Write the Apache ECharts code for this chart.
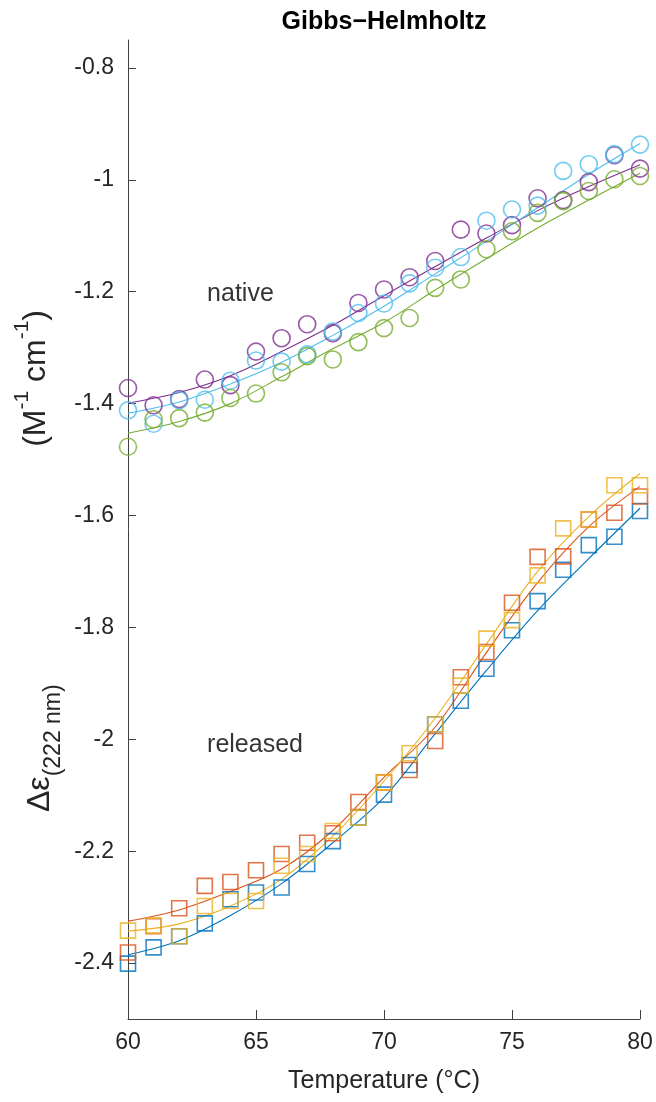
<!DOCTYPE html>
<html>
<head>
<meta charset="utf-8">
<script src="https://cdn.jsdelivr.net/npm/echarts@6/dist/echarts.min.js"></script>
<style>html,body{margin:0;padding:0;background:#fff}#c{width:656px;height:1102px}</style>
</head>
<body>
<div id="c"></div>
<script>
const temps = [60,61,62,63,64,65,66,67,68,69,70,71,72,73,74,75,76,77,78,79,80];
const fitX = [60,62,64,66,68,70,72,74,76,78,80];
const yTicks = [-2.4,-2.2,-2,-1.8,-1.6,-1.4,-1.2,-1,-0.8];
const xTicks = [60,65,70,75,80];

// native (circles)
const purplePts = [-1.372,-1.403,-1.392,-1.357,-1.367,-1.307,-1.283,-1.258,-1.274,-1.220,-1.196,-1.174,-1.145,-1.089,-1.096,-1.081,-1.033,-1.036,-1.004,-0.956,-0.980];
const cyanPts   = [-1.412,-1.436,-1.394,-1.393,-1.359,-1.323,-1.325,-1.312,-1.271,-1.238,-1.221,-1.185,-1.157,-1.138,-1.073,-1.053,-1.046,-0.984,-0.972,-0.954,-0.937];
const greenPts  = [-1.477,-1.428,-1.426,-1.416,-1.390,-1.382,-1.344,-1.315,-1.321,-1.290,-1.265,-1.247,-1.193,-1.178,-1.124,-1.092,-1.059,-1.038,-1.020,-0.999,-0.993];
// released (squares)
const bluePts   = [-2.401,-2.372,-2.352,-2.329,-2.286,-2.274,-2.265,-2.223,-2.182,-2.140,-2.099,-2.046,-1.973,-1.931,-1.874,-1.805,-1.753,-1.697,-1.653,-1.638,-1.592];
const orangePts = [-2.381,-2.334,-2.302,-2.262,-2.255,-2.234,-2.205,-2.185,-2.168,-2.112,-2.077,-2.055,-2.003,-1.889,-1.844,-1.756,-1.674,-1.673,-1.607,-1.595,-1.566];
const yellowPts = [-2.342,-2.333,-2.352,-2.298,-2.289,-2.289,-2.226,-2.205,-2.164,-2.140,-2.077,-2.025,-1.973,-1.904,-1.820,-1.787,-1.707,-1.623,-1.607,-1.546,-1.546];

// fitted curves (read at fitX)
const purpleFit = [-1.399,-1.380,-1.350,-1.307,-1.260,-1.207,-1.155,-1.104,-1.055,-1.012,-0.973];
const cyanFit   = [-1.417,-1.397,-1.365,-1.326,-1.278,-1.226,-1.168,-1.110,-1.050,-0.990,-0.935];
const greenFit  = [-1.453,-1.432,-1.400,-1.352,-1.302,-1.255,-1.197,-1.141,-1.086,-1.036,-0.988];
const blueFit   = [-2.385,-2.360,-2.315,-2.258,-2.185,-2.104,-1.990,-1.877,-1.770,-1.677,-1.587];
const orangeFit = [-2.325,-2.305,-2.272,-2.232,-2.163,-2.068,-1.978,-1.845,-1.720,-1.620,-1.548];
const yellowFit = [-2.343,-2.330,-2.298,-2.250,-2.173,-2.075,-1.962,-1.830,-1.700,-1.602,-1.525];

const labels = [['native', 63.05, -1.205], ['released', 63.05, -2.01]];

const C = {purple:'#7E2F8E', cyan:'#4DBEEE', green:'#77AC30', blue:'#0072BD', orange:'#D95319', yellow:'#EDB120'};
const FONT = "'Liberation Sans', Arial, Helvetica, sans-serif";
const AX = '#404040';
const TXT = '#262626';

function pts(xs, ys){ return xs.map((x,i)=>[x, ys[i]]); }
function scat(ys, color, sym, size){
  return {type:'scatter', data: pts(temps, ys), symbol: sym, symbolSize: size,
    itemStyle:{color:'rgba(0,0,0,0)', borderColor: color, borderWidth: 1.6}, z: 3, silent:true};
}
function fit(ys, color){
  return {type:'line', data: pts(fitX, ys), smooth: 0.35, showSymbol:false,
    lineStyle:{color: color, width: 1.1}, z: 2, silent:true};
}

const chart = echarts.init(document.getElementById('c'), null, {renderer:'canvas'});
chart.setOption({
  animation:false,
  backgroundColor:'#fff',
  grid:{left:128, right:16, top:40, bottom:83, containLabel:false},
  xAxis:{type:'value', min:60, max:80, interval:5,
    name:'Temperature (°C)', nameLocation:'middle', nameGap:50,
    nameTextStyle:{fontFamily:FONT, fontSize:25, color:TXT},
    axisLine:{show:true, lineStyle:{color:AX, width:1}},
    axisTick:{show:true, inside:true, length:9, lineStyle:{color:AX}},
    axisLabel:{fontFamily:FONT, fontSize:23, color:TXT, margin:12},
    splitLine:{show:false}},
  yAxis:{type:'value', min:-2.5, max:-0.75,
    axisLine:{show:true, lineStyle:{color:AX, width:1}},
    axisTick:{show:true, inside:true, length:8, lineStyle:{color:AX}, customValues: yTicks},
    axisLabel:{fontFamily:FONT, fontSize:23, color:TXT, margin:14, customValues: yTicks,
      formatter: v => String(Math.round(v*10)/10)},
    splitLine:{show:false}},
  graphic:[
    {type:'text', x:384, y:22, style:{text:'Gibbs−Helmholtz', font:"bold 25px 'Liberation Sans', Arial, sans-serif", fill:'#000', align:'center', verticalAlign:'middle'}},
    {type:'text', x:40, y:812, rotation: Math.PI/2,
      style:{text:'{m|Δε}{s|(222 nm)}', align:'left', verticalAlign:'middle',
        rich:{
          m:{fontFamily:FONT, fontSize:32, fill:TXT, lineHeight:50, verticalAlign:'middle'},
          s:{fontFamily:FONT, fontSize:23, fill:TXT, lineHeight:50, verticalAlign:'bottom'}
        }}},
    {type:'text', x:36, y:310, rotation: Math.PI/2,
      style:{text:'{m|(M}{p|-1}{m| cm}{p|-1}{m|)}', align:'right', verticalAlign:'middle',
        rich:{
          m:{fontFamily:FONT, fontSize:32, fill:TXT, lineHeight:48, verticalAlign:'middle'},
          p:{fontFamily:FONT, fontSize:21, fill:TXT, lineHeight:48, verticalAlign:'top'}
        }}}
  ],
  series:[
    fit(purpleFit, C.purple), fit(cyanFit, C.cyan), fit(greenFit, C.green),
    fit(blueFit, C.blue), fit(orangeFit, C.orange), fit(yellowFit, C.yellow),
    scat(purplePts, C.purple, 'circle', 17), scat(cyanPts, C.cyan, 'circle', 17), scat(greenPts, C.green, 'circle', 17),
    scat(bluePts, C.blue, 'rect', 15), scat(orangePts, C.orange, 'rect', 15), scat(yellowPts, C.yellow, 'rect', 15),
    {type:'scatter', data: labels.map(l=>[l[1], l[2], l[0]]), symbolSize:2, itemStyle:{color:'rgba(0,0,0,0)'}, silent:true, z:5,
      label:{show:true, position:'right', distance:0, formatter: p => p.data[2], fontFamily:FONT, fontSize:25, color:'#000'}}
  ]
});
</script>
</body>
</html>
